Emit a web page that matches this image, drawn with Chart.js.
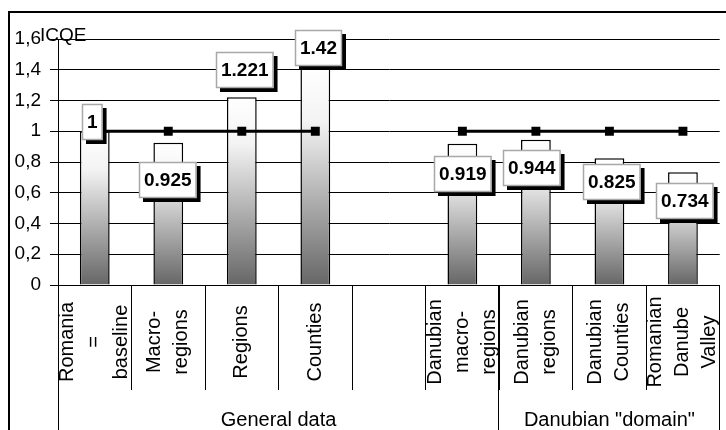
<!DOCTYPE html>
<html>
<head>
<meta charset="utf-8">
<script src="https://cdn.jsdelivr.net/npm/chart.js@4.4.0/dist/chart.umd.min.js"></script>
<style>
html, body { margin: 0; padding: 0; background: #fff; }
</style>
</head>
<body>
<canvas id="icqe" width="726" height="430"></canvas>
<script>
// categories (each label is wrapped on several lines, like in the original)
var categories = [
    ['Romania', '=', 'baseline'],
    ['Macro-', 'regions'],
    ['Regions'],
    ['Counties'],
    [''],
    ['Danubian', 'macro-', 'regions'],
    ['Danubian', 'regions'],
    ['Danubian', 'Counties'],
    ['Romanian', 'Danube', 'Valley']
];
var icqeValues = [1, 0.925, 1.221, 1.42, null, 0.919, 0.944, 0.825, 0.734];
var baselineValues = [1, 1, 1, 1, null, 1, 1, 1, 1];
var groupNames = ['General data', 'Danubian "domain"'];
var groupSizes = [6, 3];
var yTitle = 'ICQE';

// where the value boxes sit, relative to the bar top (dx, dy in px)
var boxShift = [[-2, -9], [-1, 37], [3, -27], [3, -19], [0, 0], [0, 30], [-4, 28], [2, 24], [2, 29]];

var FONT = '"Liberation Sans", Arial, sans-serif';

function barFill(c) {
    var chart = c.chart;
    if (!chart.chartArea || c.raw == null) return '#999';
    var ys = chart.scales.y;
    var top = ys.getPixelForValue(c.raw), bot = ys.getPixelForValue(0);
    var g = chart.ctx.createLinearGradient(0, top, 0, bot);
    g.addColorStop(0, '#ffffff');
    g.addColorStop(0.25, '#f3f3f3');
    g.addColorStop(1, '#666666');
    return g;
}

var decor = {
    id: 'decor',
    afterDraw: function(chart) {
        var ctx = chart.ctx, xs = chart.scales.x, ys = chart.scales.y;
        var area = chart.chartArea;
        ctx.save();

        // outer frame (runs off the right and bottom edge)
        ctx.strokeStyle = '#000';
        ctx.lineWidth = 2;
        ctx.strokeRect(9, 12, 740, 440);

        // axis title
        ctx.fillStyle = '#000';
        ctx.font = '19px ' + FONT;
        ctx.textAlign = 'left';
        ctx.textBaseline = 'alphabetic';
        ctx.fillText(yTitle, 40, 41);

        // category labels, rotated, one column per line
        ctx.font = '20px ' + FONT;
        ctx.textAlign = 'center';
        ctx.textBaseline = 'middle';
        categories.forEach(function(lines, i) {
            var cx = xs.getPixelForValue(i);
            lines.forEach(function(t, j) {
                var x = cx + (j - (lines.length - 1) / 2) * 27;
                ctx.save();
                ctx.translate(x, 342);
                ctx.rotate(-Math.PI / 2);
                ctx.fillText(t, 0, 0);
                ctx.restore();
            });
        });

        // group separators and names
        var half = (xs.getPixelForValue(1) - xs.getPixelForValue(0)) / 2;
        var start = 0;
        ctx.lineWidth = 1;
        ctx.beginPath();
        ctx.moveTo(area.left + 0.5, area.bottom);
        ctx.lineTo(area.left + 0.5, 430);
        ctx.stroke();
        groupSizes.forEach(function(n, g) {
            var x0 = xs.getPixelForValue(start) - half;
            var x1 = xs.getPixelForValue(start + n - 1) + half;
            ctx.beginPath();
            ctx.moveTo(Math.round(x1) - 0.5, area.bottom);
            ctx.lineTo(Math.round(x1) - 0.5, 430);
            ctx.stroke();
            ctx.fillText(groupNames[g], (x0 + x1) / 2, 420);
            start += n;
        });

        // value boxes with a dark drop shadow
        ctx.font = 'bold 19px ' + FONT;
        icqeValues.forEach(function(v, i) {
            if (v == null) return;
            var t = String(v);
            var w = ctx.measureText(t).width + 10, h = 36;
            var cx = xs.getPixelForValue(i) + boxShift[i][0];
            var cy = ys.getPixelForValue(v) + boxShift[i][1];
            var bx = Math.round(cx - w / 2), by = Math.round(cy - h / 2);
            ctx.fillStyle = '#000';
            ctx.fillRect(bx + 4, by + 4, w, h);
            ctx.fillStyle = '#fff';
            ctx.fillRect(bx, by, w, h);
            ctx.strokeStyle = '#a8a8a8';
            ctx.lineWidth = 1.5;
            ctx.strokeRect(bx + 0.5, by + 0.5, w - 1, h - 1);
            ctx.fillStyle = '#000';
            ctx.fillText(t, bx + w / 2, by + h / 2 + 1);
        });
        ctx.restore();
    }
};

var chartIcqe = new Chart(document.getElementById('icqe'), {
    data: {
        labels: categories,
        datasets: [
            {
                type: 'line',
                label: 'baseline',
                data: baselineValues,
                borderColor: '#000',
                borderWidth: 3,
                pointStyle: 'rect',
                pointRadius: 6.3,
                pointBackgroundColor: '#000',
                pointBorderWidth: 0,
                spanGaps: false,
                order: 0
            },
            {
                type: 'bar',
                label: 'ICQE',
                data: icqeValues,
                backgroundColor: barFill,
                borderColor: '#000',
                borderWidth: 1.5,
                categoryPercentage: 1,
                barPercentage: 0.405,
                order: 1
            }
        ]
    },
    options: {
        responsive: false,
        maintainAspectRatio: false,
        animation: false,
        layout: { padding: { left: 0, right: 2, top: 39, bottom: 0 } },
        plugins: {
            legend: { display: false },
            tooltip: { enabled: false }
        },
        scales: {
            x: {
                type: 'category',
                offset: true,
                grid: { offset: true, drawOnChartArea: false, color: '#000', tickLength: 105, lineWidth: 1 },
                border: { color: '#000', width: 1 },
                ticks: { display: false },
                afterFit: function(s) { s.height = 145; }
            },
            y: {
                min: 0,
                max: 1.6,
                ticks: {
                    stepSize: 0.2,
                    padding: 9,
                    color: '#000',
                    font: { family: FONT, size: 19 },
                    callback: function(v) { return String(Number(v.toFixed(1))).replace('.', ','); }
                },
                grid: { color: '#000', lineWidth: 1, tickLength: 8 },
                border: { color: '#000', width: 1 },
                afterFit: function(s) { s.width = 58; }
            }
        }
    },
    plugins: [decor]
});
</script>
</body>
</html>
